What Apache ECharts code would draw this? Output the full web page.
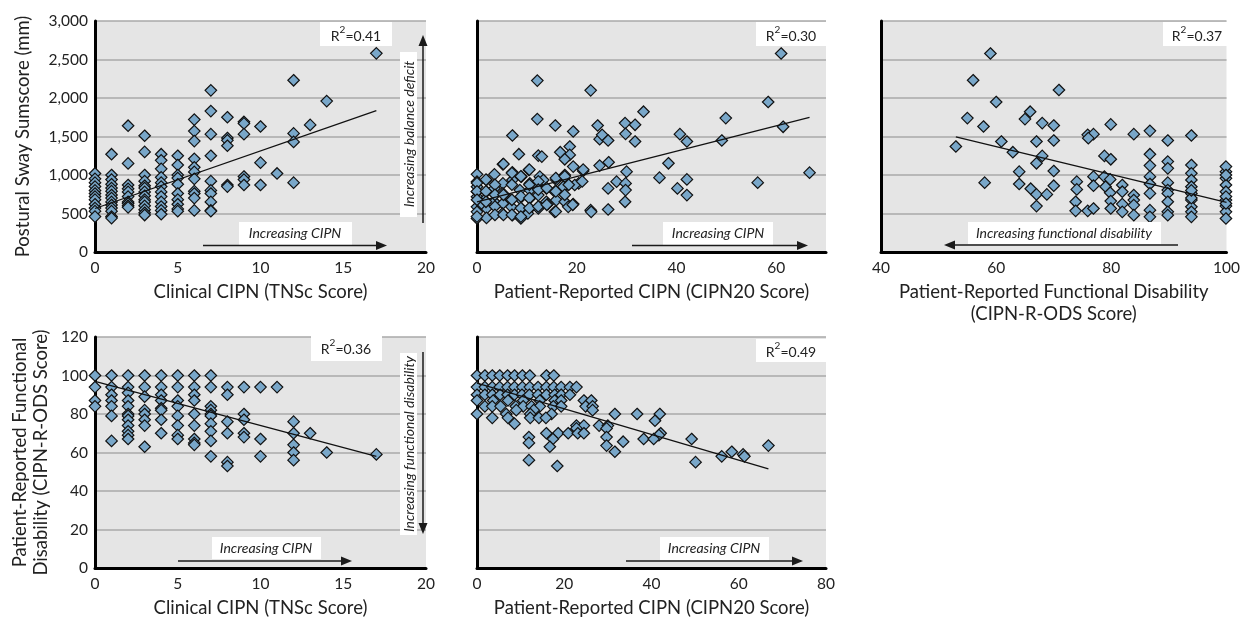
<!DOCTYPE html>
<html>
<head>
<meta charset="utf-8">
<script src="https://cdn.jsdelivr.net/npm/echarts@6/dist/echarts.min.js"></script>
<style>
html,body{margin:0;padding:0;background:#fff;}
#main{width:1243px;height:620px;}
</style>
</head>
<body>
<div id="main"></div>
<script>
// TNSc score (x) vs postural sway (y), grouped by x column
var tnscSwayCols = [
	[0, [1020, 950, 900, 850, 800, 760, 720, 680, 620, 570, 530, 460]],
	[1, [1270, 1000, 940, 880, 830, 790, 740, 700, 650, 610, 570, 530, 460, 440]],
	[2, [1640, 1150, 870, 820, 780, 720, 650, 630, 600, 580]],
	[3, [1510, 1300, 1000, 920, 860, 830, 780, 730, 680, 650, 600, 550, 510, 480]],
	[4, [1270, 1190, 1080, 970, 900, 850, 780, 720, 650, 590, 540, 490]],
	[5, [1250, 1130, 1000, 960, 880, 760, 680, 620, 560, 530]],
	[6, [1720, 1570, 1440, 1210, 1100, 1040, 950, 790, 760, 700, 540]],
	[7, [2100, 1830, 1530, 1250, 920, 800, 760, 650, 540, 530]],
	[8, [1750, 1480, 1450, 1380, 870, 850]],
	[9, [1690, 1670, 1530, 980, 940, 870]],
	[10, [1630, 1160, 870]],
	[11, [1020]],
	[12, [2230, 1540, 1430, 900]],
	[13, [1650]],
	[14, [1960]],
	[17, [2580]]
];
// CIPN20 score vs postural sway
var cipnSway = [
	[12.1, 2226], [22.8, 2100], [61, 2578], [58.4, 1948], [33.4, 1822], [49.9, 1739], [12.1, 1726],
	[15.7, 1643], [24.2, 1643], [29.7, 1674], [31.7, 1652], [19.3, 1565], [61.4, 1626], [40.7, 1530],
	[42.1, 1435], [49.1, 1448], [7.1, 1513], [24.6, 1465], [25.1, 1522], [26.3, 1448], [29.8, 1535],
	[31.7, 1435], [18.6, 1370], [16.7, 1296], [8.4, 1270], [12.3, 1252], [13, 1239], [18.6, 1261],
	[17.6, 1204], [19.3, 1109], [5.2, 1139], [24.6, 1122], [26.4, 1165], [38.4, 1152], [10.4, 1065],
	[21.3, 1052], [30, 1043], [66.7, 1030], [36.6, 965], [42.1, 943], [56.3, 900], [28, 913],
	[29.8, 891], [26.3, 826], [29.8, 804], [40.2, 826], [42.1, 739], [29.7, 652], [22.8, 543],
	[22.9, 522], [26.3, 552],
	[0, 1009], [3.5, 1009], [7.1, 1035], [8.9, 978], [1.9, 935], [5.2, 891], [7.1, 935], [10.6, 891],
	[12.6, 978], [13.3, 935], [15.9, 935], [17.6, 1000], [18.3, 870], [20.4, 891], [19.6, 870],
	[0, 848], [1.9, 783], [3.5, 826], [5.2, 761], [8.6, 804], [10.6, 804], [11.9, 848], [13.9, 826],
	[15.6, 783], [17.3, 848], [0, 717], [1.5, 674], [3.5, 652], [6.6, 674], [8.6, 696], [10.6, 696],
	[12.3, 739], [13.9, 652], [15.9, 674], [17.6, 652], [19.3, 622], [0, 587], [1.9, 565], [5.2, 630],
	[6.9, 587], [8.9, 565], [10.6, 565], [12.3, 587], [14.2, 622], [15.6, 522], [18.3, 587], [0, 435],
	[1.9, 443], [5.1, 500], [7.1, 478], [8.8, 435], [10.2, 500], [12.3, 565], [0, 913], [0, 783],
	[0, 522], [0.9, 630], [0, 896], [0, 787], [0, 678], [0, 460], [1.8, 939], [1.8, 787], [1.8, 652],
	[3.6, 874], [3.6, 743], [3.6, 591], [3.6, 482], [5.3, 1143], [5.3, 743], [5.3, 482], [7, 1026],
	[7, 874], [7, 678], [7, 482], [8.8, 983], [8.8, 722], [8.8, 570], [8.8, 460], [10.5, 1070],
	[10.5, 874], [10.5, 700], [10.5, 570], [12.3, 917], [12.3, 809], [12.3, 591], [14, 830], [14, 613],
	[15.8, 961], [15.8, 787], [15.8, 526], [17.6, 983], [17.6, 743], [18.4, 874], [19.2, 613],
	[21.3, 1070], [21.1, 917]
];
// CIPN-R-ODS score vs postural sway
var odsSway = [
	[59, 2578], [56, 2230], [70.9, 2104], [60, 1948], [65.9, 1822], [55, 1739], [65, 1726], [68, 1674],
	[70, 1643], [57.8, 1630], [79.9, 1657], [86.7, 1574], [83.9, 1530], [75.9, 1522], [76.9, 1530],
	[76, 1478], [93.9, 1513], [89.8, 1448], [60.9, 1435], [67, 1435], [70, 1448], [53, 1370],
	[62.9, 1296], [86.7, 1270], [68, 1248], [78.8, 1248], [79.9, 1204], [67, 1152], [89.8, 1174],
	[89.8, 1087], [93.9, 1130], [86.7, 1122], [64, 1043], [70, 1052], [76.9, 978], [78.8, 978],
	[79.8, 943], [86.7, 978], [93.9, 1022], [99.9, 1043], [99.9, 957], [93.9, 935], [58, 900],
	[64, 883], [74, 913], [81.9, 870], [89.8, 900], [99.9, 870], [70, 861], [76.9, 861], [66, 822],
	[79, 848], [74, 813], [86.7, 883], [86.7, 761], [89.8, 804], [89.8, 761], [93.9, 848], [93.9, 761],
	[99.9, 783], [67, 748], [68.8, 748], [79.8, 770], [81.9, 783], [83.9, 739], [93.9, 674], [99.9, 674],
	[73.8, 652], [79.9, 661], [81.9, 622], [83.9, 674], [83.9, 609], [89.8, 652], [93.9, 587],
	[99.9, 596], [67, 596], [73.8, 535], [75.9, 535], [76.9, 565], [79.9, 565], [81.9, 522], [83.9, 478],
	[86.7, 543], [86.7, 457], [89.8, 522], [89.8, 478], [93.9, 522], [93.9, 457], [99.9, 522],
	[99.9, 435], [99.9, 1109], [99.9, 1000], [93.9, 700], [93.9, 800], [99.9, 720], [99.9, 630]
];
// TNSc score vs CIPN-R-ODS, grouped by x column
var tnscOdsCols = [
	[0, [100, 94, 87, 84]],
	[1, [100, 94, 90, 87, 84, 79, 66]],
	[2, [100, 94, 91, 87, 84, 80, 79, 77, 74, 71, 69, 67]],
	[3, [100, 94, 89, 82, 80, 77, 74, 63]],
	[4, [100, 94, 90, 87, 83, 82, 77, 70]],
	[5, [100, 94, 87, 84, 79, 74, 69, 67]],
	[6, [100, 94, 90, 87, 80, 74, 67, 65, 64]],
	[7, [100, 94, 84, 82, 80, 79, 75, 71, 66, 58]],
	[8, [94, 90, 76, 70, 55, 53]],
	[9, [94, 80, 77, 70, 68]],
	[10, [94, 67, 58]],
	[11, [94]],
	[12, [76, 70, 64, 60, 56]],
	[13, [70]],
	[14, [60]],
	[17, [59]]
];
// CIPN20 score vs CIPN-R-ODS, grouped by y row
var cipnOdsRows = [
	[100, [0, 1.8, 3.5, 5.2, 7, 8.6, 10.4, 12.1, 15.9, 17.6]],
	[94, [0, 1.8, 3.5, 5.2, 7, 8.6, 10.4, 12.1, 14, 15.9, 17.6, 19.3, 21.3, 22.8]],
	[90, [0, 1.8, 3.5, 5.3, 7, 8.6, 10.3, 12, 14, 15.9, 17.8, 19.3, 21.3]],
	[87, [0, 3.7, 7.1, 10.6, 14.4, 17.8, 19.3, 24.5, 26.2]],
	[84, [1.8, 3.5, 5.4, 8.9, 10.6, 12.5, 14.4, 17.5, 19.3, 24.9, 26.5]],
	[82, [9, 13, 26.5]],
	[80, [0, 6.7, 12.2, 17.1, 31.6, 36.7, 41.9]],
	[78, [3.5, 7.1, 12.2, 14.2, 15.8]],
	[76.5, [40.8]],
	[75, [8.6]],
	[74, [22.8, 24.5, 28, 30]],
	[72.5, [22.8, 29.7]],
	[70, [15.9, 18.6, 20.9, 23.1, 24.5, 42.1]],
	[69, [41.7]],
	[68, [11.9, 29.7]],
	[67, [17.4, 38.2, 40.5, 49.2]],
	[65.6, [33.5]],
	[65, [11.9]],
	[63.6, [29.7, 66.8]],
	[63, [16.7]],
	[60.4, [31.6, 58.4]],
	[59, [61]],
	[58, [56.1, 61.3]],
	[56, [11.9]],
	[55, [50.1]],
	[53, [18.4]]
];
// fitted trend line end points
var trendTnscSway = [[0, 565], [17, 1835]];
var trendCipnSway = [[0, 650], [66.7, 1748]];
var trendOdsSway = [[53, 1496], [100, 643]];
var trendTnscOds = [[0, 97], [17, 58]];
var trendCipnOds = [[0, 96], [66.8, 51.5]];
var r2Values = ['0.41', '0.30', '0.37', '0.36', '0.49'];

function fromCols(cols) {
	var out = [];
	cols.forEach(function(c) { c[1].forEach(function(v) { out.push([c[0], v]); }); });
	return out;
}
function fromRows(rows) {
	var out = [];
	rows.forEach(function(r) { r[1].forEach(function(v) { out.push([v, r[0]]); }); });
	return out;
}

var FONT = 'Lato, "Noto Sans", sans-serif';
var myChart = echarts.init(document.getElementById('main'));

function xAx(gi, min, max, interval, name, hideMax) {
	return {
		type: 'value', gridIndex: gi, min: min, max: max, interval: interval,
		name: name, nameLocation: 'middle', nameGap: 29,
		nameTextStyle: { fontSize: 18.5, color: '#222', fontFamily: FONT, lineHeight: 22 },
		axisLine: { show: true, onZero: false, lineStyle: { color: '#000', width: 3 } },
		axisTick: { show: false },
		axisLabel: { fontSize: 15.5, color: '#222', margin: 8, fontFamily: FONT, showMaxLabel: !hideMax },
		splitLine: { show: false }
	};
}
function yAx(gi, min, max, interval, name, gap, showLabel) {
	return {
		type: 'value', gridIndex: gi, min: min, max: max, interval: interval,
		name: name, nameLocation: 'middle', nameGap: gap,
		nameTextStyle: { fontSize: 18.5, color: '#222', fontFamily: FONT, lineHeight: 21 },
		axisLine: { show: true, onZero: false, lineStyle: { color: '#000', width: 3 } },
		axisTick: { show: false },
		axisLabel: {
			show: showLabel, fontSize: 15.5, color: '#222', margin: 7, fontFamily: FONT,
			formatter: function(v) { return v.toLocaleString('en-US'); }
		},
		splitLine: { show: true, lineStyle: { color: '#a8a8a8', width: 1.5 } }
	};
}
function scatter(i, data) {
	return {
		type: 'scatter', xAxisIndex: i, yAxisIndex: i, data: data,
		symbol: 'diamond', symbolSize: 11.5,
		itemStyle: { color: '#79a7c9', borderColor: '#111', borderWidth: 1.2, opacity: 1 },
		silent: true
	};
}
function trend(i, data) {
	return {
		type: 'line', xAxisIndex: i, yAxisIndex: i, data: data, z: 5,
		symbol: 'none', lineStyle: { color: '#111', width: 1.3 }, silent: true
	};
}

// annotation helpers (boxes, arrows, italic notes)
function box(x, y, w, h) {
	return { type: 'rect', z: 100, shape: { x: x, y: y, width: w, height: h }, style: { fill: '#fff' } };
}
function note(text, cx, cy, rot, italic) {
	return {
		type: 'text', z: 101, x: cx, y: cy, rotation: rot || 0,
		style: {
			text: text, fill: '#222', fontSize: 14, fontFamily: FONT,
			fontStyle: italic ? 'italic' : 'normal', align: 'center', verticalAlign: 'middle'
		}
	};
}
function r2(val, cx, cy) {
	return {
		type: 'text', z: 101, x: cx, y: cy,
		style: {
			text: '{b|R}{s|2}{b|=' + val + '}', align: 'center', verticalAlign: 'middle',
			rich: {
				b: { fontSize: 14, fill: '#222', fontFamily: FONT, lineHeight: 18, verticalAlign: 'bottom' },
				s: { fontSize: 10, fill: '#222', fontFamily: FONT, lineHeight: 18, verticalAlign: 'top', padding: [0, 0, 6, 0] }
			}
		}
	};
}
function arrow(x1, y1, x2, y2) {
	var dx = x2 - x1, dy = y2 - y1, len = Math.sqrt(dx * dx + dy * dy);
	var ux = dx / len, uy = dy / len, hl = 11, hw = 4.5;
	var bx = x2 - ux * hl, by = y2 - uy * hl;
	return [
		{ type: 'line', z: 101, shape: { x1: x1, y1: y1, x2: bx, y2: by }, style: { stroke: '#1a1a1a', lineWidth: 1.5 } },
		{ type: 'polygon', z: 101, shape: { points: [[x2, y2], [bx - uy * hw, by + ux * hw], [bx + uy * hw, by - ux * hw]] }, style: { fill: '#1a1a1a' } }
	];
}

var graphics = [
	box(320, 22, 72, 24), r2(r2Values[0], 356, 34),
	box(756, 22, 70, 24), r2(r2Values[1], 791, 34),
	box(1163, 22, 68, 24), r2(r2Values[2], 1197, 34),
	box(311, 333, 71, 28), r2(r2Values[3], 346, 347),
	box(756, 339, 70, 23), r2(r2Values[4], 791, 350),
	box(239, 222, 113, 23), note('Increasing CIPN', 295, 233, 0, true),
	box(400, 52, 17, 165), note('Increasing balance deficit', 409, 134, Math.PI / 2, true),
	box(663, 222, 110, 23), note('Increasing CIPN', 718, 233, 0, true),
	box(968, 222, 193, 22), note('Increasing functional disability', 1064, 233, 0, true),
	box(212, 537, 109, 22), note('Increasing CIPN', 266, 548, 0, true),
	box(400, 353, 17, 182), note('Increasing functional disability', 409, 444, Math.PI / 2, true),
	box(660, 537, 109, 23), note('Increasing CIPN', 714, 548, 0, true)
].concat(
	arrow(203, 245.5, 387, 245.5),
	arrow(423, 223, 423, 35),
	arrow(632, 245.5, 808, 245.5),
	arrow(1178, 245, 944, 245),
	arrow(178, 561, 352, 561),
	arrow(423, 352, 423, 534),
	arrow(626, 561, 803, 561)
);

var option = {
	backgroundColor: '#fff',
	animation: false,
	textStyle: { fontFamily: FONT },
	grid: [
		{ left: 95, top: 21, width: 331, height: 231, show: true, backgroundColor: '#e5e5e5', borderWidth: 0 },
		{ left: 477, top: 21, width: 349, height: 231, show: true, backgroundColor: '#e5e5e5', borderWidth: 0 },
		{ left: 881, top: 21, width: 350, height: 231, show: true, backgroundColor: '#e5e5e5', borderWidth: 0 },
		{ left: 95, top: 337, width: 331, height: 231, show: true, backgroundColor: '#e5e5e5', borderWidth: 0 },
		{ left: 477, top: 337, width: 349, height: 231, show: true, backgroundColor: '#e5e5e5', borderWidth: 0 }
	],
	xAxis: [
		xAx(0, 0, 20, 5, 'Clinical CIPN (TNSc Score)'),
		xAx(1, 0, 70, 20, 'Patient-Reported CIPN (CIPN20 Score)', true),
		xAx(2, 40, 100, 20, 'Patient-Reported Functional Disability\n(CIPN-R-ODS Score)'),
		xAx(3, 0, 20, 5, 'Clinical CIPN (TNSc Score)'),
		xAx(4, 0, 80, 20, 'Patient-Reported CIPN (CIPN20 Score)')
	],
	yAxis: [
		yAx(0, 0, 3000, 500, 'Postural Sway Sumscore (mm)', 61, true),
		yAx(1, 0, 3000, 500, '', 10, false),
		yAx(2, 0, 3000, 500, '', 10, false),
		yAx(3, 0, 120, 20, 'Patient-Reported Functional\nDisability (CIPN-R-ODS Score)', 43, true),
		yAx(4, 0, 120, 20, '', 10, false)
	],
	series: [
		scatter(0, fromCols(tnscSwayCols)), trend(0, trendTnscSway),
		scatter(1, cipnSway), trend(1, trendCipnSway),
		scatter(2, odsSway), trend(2, trendOdsSway),
		scatter(3, fromCols(tnscOdsCols)), trend(3, trendTnscOds),
		scatter(4, fromRows(cipnOdsRows)), trend(4, trendCipnOds)
	],
	graphic: graphics
};
myChart.setOption(option);
</script>
</body>
</html>
